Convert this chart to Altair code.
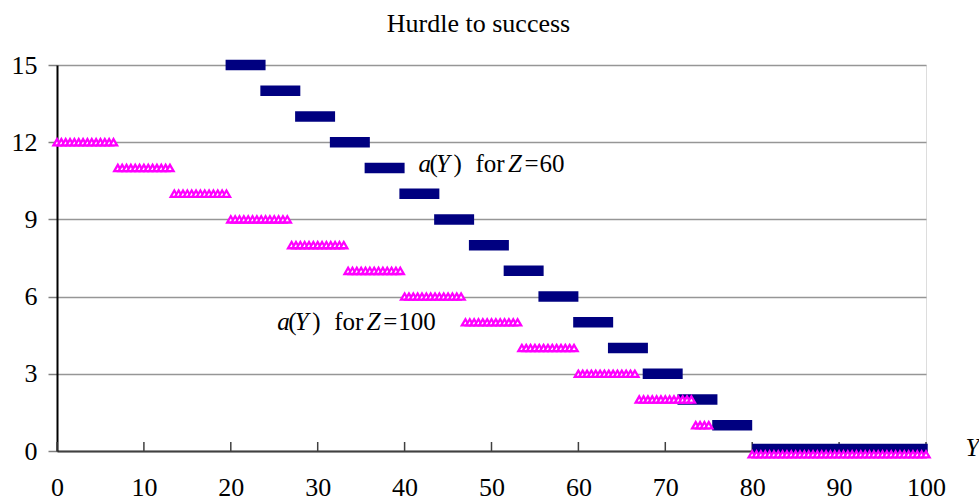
import altair as alt
import pandas as pd
import numpy as np

# ---------------- data ----------------
chart_title = "Hurdle to success"
x_ticks = [0, 10, 20, 30, 40, 50, 60, 70, 80, 90, 100]
y_ticks = [0, 3, 6, 9, 12, 15]

# a(Y) for Z = 60 : level and horizontal extent of each step
z60_level = [15, 14, 13, 12, 11, 10, 9, 8, 7, 6, 5, 4, 3, 2, 1, 0.08]
z60_from = [19.4, 23.4, 27.4, 31.4, 35.4, 39.4, 43.4, 47.4, 51.4, 55.4, 59.4, 63.4, 67.4, 71.4, 75.4, 80.0]
z60_to = [24.0, 28.0, 32.0, 36.0, 40.0, 44.0, 48.0, 52.0, 56.0, 60.0, 64.0, 68.0, 72.0, 76.0, 80.0, 100.2]

# a(Y) for Z = 100 : level and first/last marker of each step
z100_level = [12, 11, 10, 9, 8, 7, 6, 5, 4, 3, 2, 1, -0.13]
z100_first = [0, 7, 13.5, 20, 27, 33.5, 40, 47, 53.5, 60, 67, 73.5, 80]
z100_last = [6.5, 13, 19.5, 26.5, 33, 39.5, 46.5, 53, 59.5, 66.5, 73, 75, 100]
marker_step = 0.5  # spacing of the triangle markers along a step

# annotations
label_x = [41.6, 25.35]
label_y = [10.855, 4.70]
label_num = ["60", "100"]

# ---------------- tables ----------------
z60 = pd.DataFrame({"lvl": z60_level, "x0": z60_from, "x1": z60_to})

rows = []
for lvl, a, b in zip(z100_level, z100_first, z100_last):
    for xv in np.arange(a, b + 1e-9, marker_step):
        rows.append({"x": float(xv), "lvl": lvl})
z100 = pd.DataFrame(rows)

ticks_df = pd.DataFrame({"t": x_ticks})

FONT = "Liberation Serif"
xs = alt.Scale(domain=[0, 100], nice=False, zero=False)
ys = alt.Scale(domain=[0, 15], nice=False, zero=False)

base_axes = alt.Chart(z60).mark_rule(opacity=0).encode(
    x=alt.X("x0:Q", scale=xs,
            axis=alt.Axis(values=x_ticks, grid=False, ticks=False, domainColor="#404040",
                          domainWidth=2, labelFont=FONT, labelFontSize=26, labelColor="black",
                          labelFlush=False, labelPadding=23, title="Y", titleFont=FONT,
                          titleFontSize=25, titleFontStyle="italic", titleFontWeight="normal",
                          titleColor="black", titleX=908, titleY=4, titleAlign="left",
                          titleBaseline="alphabetic", titleAngle=0)),
    y=alt.Y("lvl:Q", scale=ys,
            axis=alt.Axis(values=y_ticks, grid=True, gridColor="#969696", gridWidth=1.5,
                          domainColor="black", domainWidth=2, tickColor="#808080", tickWidth=1.5,
                          tickSize=9, labelFont=FONT, labelFontSize=26, labelColor="black",
                          labelPadding=11, labelFlush=False, title=None)),
)

xtick_layer = alt.Chart(ticks_df).mark_rule(color="#404040", strokeWidth=1.5).encode(
    x=alt.X("t:Q", scale=xs),
    y=alt.value(386),
    y2=alt.value(377),
)

navy = alt.Chart(z60).mark_rule(color="#000080", strokeWidth=10.5, strokeCap="butt").encode(
    x=alt.X("x0:Q", scale=xs),
    x2="x1:Q",
    y=alt.Y("lvl:Q", scale=ys),
)

magenta = alt.Chart(z100).mark_point(
    shape="triangle-up", size=52, filled=True, fill="white", fillOpacity=1,
    stroke="#FF00FF", strokeWidth=2.3, opacity=1,
).encode(
    x=alt.X("x:Q", scale=xs),
    y=alt.Y("lvl:Q", scale=ys),
)

ann_df = pd.DataFrame({"ax": label_x, "ay": label_y, "num": label_num})
pieces = [
    ("a", 0, "italic"), ("(", 11, "normal"), ("Y", 17.5, "italic"), (")", 35, "normal"),
    ("for", 57, "normal"), ("Z", 89.5, "italic"), ("=", 106, "normal"), (None, 121, "normal"),
]
ann_layers = []
for txt, dx, style in pieces:
    enc_text = alt.Text("num:N") if txt is None else alt.value(txt)
    ann_layers.append(
        alt.Chart(ann_df).mark_text(
            font=FONT, fontSize=25, fontStyle=style, color="black",
            align="left", baseline="alphabetic", dx=dx,
        ).encode(
            x=alt.X("ax:Q", scale=xs),
            y=alt.Y("ay:Q", scale=ys),
            text=enc_text,
        )
    )

chart = alt.layer(base_axes, xtick_layer, navy, magenta, *ann_layers).properties(
    width=869, height=386,
    title=alt.TitleParams(chart_title, font=FONT, fontSize=26, fontWeight="normal",
                          color="black", anchor="middle", dx=-13, offset=15),
    autosize=alt.AutoSizeParams(type="none"),
    padding={"left": 57, "top": 65, "right": 53, "bottom": 49},
).configure_view(stroke="#969696", strokeWidth=2).configure(background="white")

chart.save("out.html", embed_options={"renderer": "svg", "actions": False})
